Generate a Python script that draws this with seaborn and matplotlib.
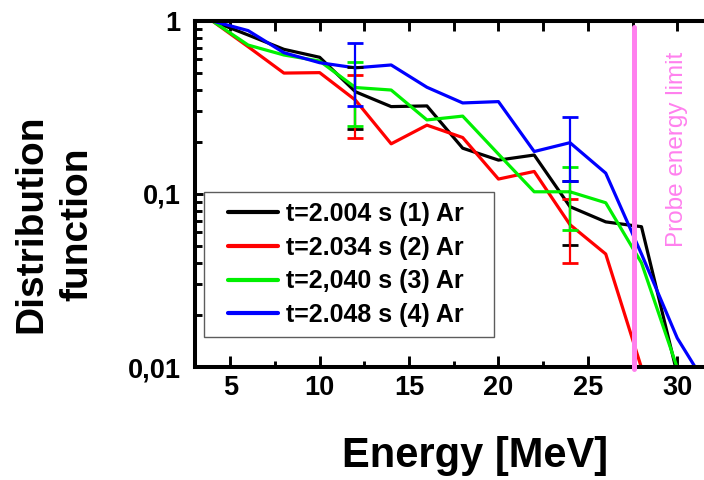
import numpy as np
import pandas as pd
import matplotlib
matplotlib.use('Agg')
import matplotlib.pyplot as plt
from matplotlib.lines import Line2D
from matplotlib.legend_handler import HandlerLine2D
from matplotlib.ticker import FixedLocator, FuncFormatter, LogLocator, NullFormatter
import seaborn as sns

# values
energy_1 = [4, 6, 8, 10, 12, 14, 16, 18, 20, 22, 24, 26, 28, 30]
dist_1 = [1.0, 0.83, 0.686, 0.617, 0.39, 0.32, 0.323, 0.184, 0.157, 0.168, 0.0845, 0.069, 0.0647, 0.0091]

energy_2 = [4, 6, 8, 10, 12, 14, 16, 18, 20, 22, 24, 26, 28]
dist_2 = [1.0, 0.71, 0.50, 0.503, 0.349, 0.195, 0.25, 0.212, 0.122, 0.135, 0.0665, 0.045, 0.0099]

energy_3 = [4, 6, 8, 10, 12, 14, 16, 18, 20, 22, 24, 26, 28, 30]
dist_3 = [1.0, 0.726, 0.636, 0.587, 0.4125, 0.399, 0.268, 0.282, 0.17, 0.103, 0.103, 0.089, 0.04, 0.0099]

energy_4 = [4, 6, 8, 10, 12, 14, 16, 18, 20, 22, 24, 26, 28, 30, 32]
dist_4 = [1.0, 0.88, 0.656, 0.574, 0.536, 0.557, 0.414, 0.336, 0.342, 0.176, 0.198, 0.132, 0.045, 0.0147, 0.0068]

err_energy = [12, 24]
err_1 = [0.154, 0.034]
err_2 = [0.139, 0.0267]
err_3 = [0.165, 0.041]
err_4 = [0.213, 0.079]

labels = ['t=2.004 s (1) Ar', 't=2.034 s (2) Ar', 't=2,040 s (3) Ar', 't=2.048 s (4) Ar']
colors = ['black', '#ff0000', '#00f000', '#0000ff']

probe_limit = 27.58
pink = '#ff80ee'

frames = []
for lab, e, d in zip(labels, [energy_1, energy_2, energy_3, energy_4],
                     [dist_1, dist_2, dist_3, dist_4]):
    frames.append(pd.DataFrame({'energy': e, 'dist': d, 'series': lab}))
df = pd.concat(frames, ignore_index=True)

sns.set_style('ticks')
plt.rcParams['font.family'] = ['Liberation Sans', 'DejaVu Sans']
plt.rcParams['xtick.direction'] = 'in'
plt.rcParams['ytick.direction'] = 'in'
for k in ['text.color', 'axes.labelcolor', 'xtick.color', 'ytick.color', 'axes.edgecolor']:
    plt.rcParams[k] = 'black'

fig = plt.figure(figsize=(7.04, 4.8), dpi=100)
ax = fig.add_axes([194.5 / 704, 113 / 480, 518.5 / 704, 346 / 480])

sns.lineplot(data=df, x='energy', y='dist', hue='series', palette=dict(zip(labels, colors)),
             estimator=None, sort=False, linewidth=2.3, legend=False, ax=ax)

# error bars at 12 and 24 MeV
for e_list, dists, errs, c in zip([energy_1, energy_2, energy_3, energy_4],
                                  [dist_1, dist_2, dist_3, dist_4],
                                  [err_1, err_2, err_3, err_4], colors):
    ys = [dists[e_list.index(x)] for x in err_energy]
    ax.errorbar(err_energy, ys, yerr=errs, fmt='none', ecolor=c, elinewidth=1.6,
                capsize=6, capthick=2.0, zorder=4)

ax.set_yscale('log')
ax.set_xlim(3, 32)
ax.set_ylim(0.01, 1)

# probe limit
ax.plot([probe_limit, probe_limit], [0.92, 0.0098], color=pink, lw=3.6,
        solid_capstyle='round', clip_on=False, zorder=6)
ax.text(30.0, 0.18, 'Probe energy limit', rotation=90, color=pink, fontsize=17.5,
        ha='center', va='center')

ax.xaxis.set_major_locator(FixedLocator([5, 10, 15, 20, 25, 30]))
ax.xaxis.set_minor_locator(FixedLocator([7.5, 12.5, 17.5, 22.5, 27.5]))
ax.yaxis.set_major_locator(FixedLocator([0.01, 0.1, 1]))
ax.yaxis.set_minor_locator(LogLocator(base=10, subs=np.arange(2, 10)))
ax.yaxis.set_minor_formatter(NullFormatter())
ylab = {0.01: '0,01', 0.1: '0,1', 1: '1'}
ax.yaxis.set_major_formatter(FuncFormatter(lambda v, p: ylab.get(round(v, 3), '')))

ax.tick_params(axis='x', which='major', length=8, width=2.1, pad=6, labelsize=19.5)
ax.tick_params(axis='x', which='minor', length=4.3, width=2.1)
ax.tick_params(axis='y', which='major', length=6, width=2.1, pad=10, labelsize=19.5)
ax.tick_params(axis='y', which='minor', length=5, width=2.1)
for lab in ax.get_xticklabels() + ax.get_yticklabels():
    lab.set_fontweight('bold')

for s in ax.spines.values():
    s.set_linewidth(2.9)
    s.set_color('black')

top = ax.secondary_xaxis('top')
top.set_xticks(np.arange(5, 32, 2.5))
top.tick_params(direction='in', length=7.5, width=2.1, labeltop=False)
top.spines['top'].set_linewidth(2.9)

ax.set_xlabel('Energy [MeV]', fontsize=30, fontweight='bold', va='top')
ax.xaxis.set_label_coords(0.541, -0.2)
ax.set_ylabel('Distribution\nfunction', fontsize=28, fontweight='bold', va='center',
              linespacing=1.35)
ax.yaxis.set_label_coords(-0.271, 0.413)

handles = [Line2D([], [], color=c, lw=3) for c in colors]
leg = ax.legend(handles, [l + '\u00a0\u00a0\u00a0' for l in labels], loc='lower left',
                bbox_to_anchor=(0.0183, 0.0867),
                borderaxespad=0, fancybox=False, frameon=True, handlelength=2.57,
                handletextpad=0.3, labelspacing=0.39, borderpad=0.4,
                handler_map={Line2D: HandlerLine2D(xpad=0.57)},
                prop={'size': 18, 'weight': 'bold'})
leg.get_frame().set_edgecolor('#333333')
leg.get_frame().set_linewidth(1.0)
leg.set_zorder(3)

fig.savefig('out.png', dpi=100)
